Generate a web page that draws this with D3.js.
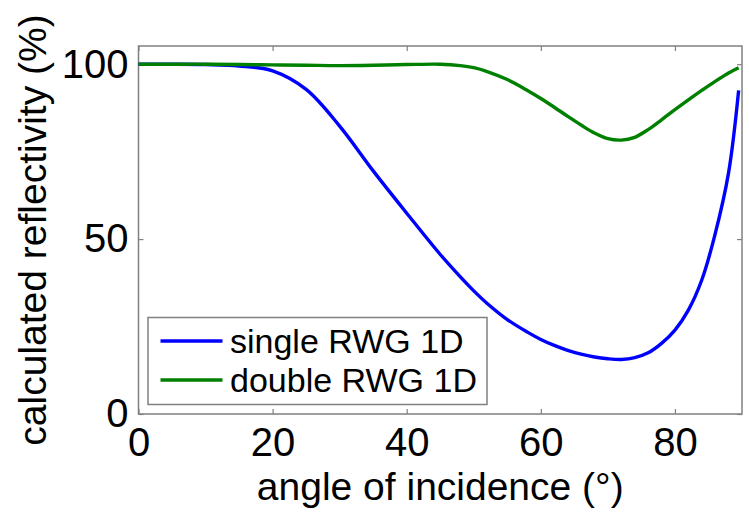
<!DOCTYPE html>
<html>
<head>
<meta charset="utf-8">
<script src="https://cdn.jsdelivr.net/npm/d3@7"></script>
<style>
  html, body { margin: 0; padding: 0; background: #fff; overflow: hidden; }
  svg { display: block; }
</style>
</head>
<body>
<svg id="chart"></svg>
<script>
// set up constants
const width = 749;
const height = 519;
const margin = { top: 46, right: 7, bottom: 105, left: 138.5 };
const innerWidth = width - margin.left - margin.right;
const innerHeight = height - margin.top - margin.bottom;
const font = '"Liberation Sans", Arial, sans-serif';

// data
const angles = [0, 5, 10, 15, 20, 25, 30, 35, 40, 45, 48, 50, 52, 55, 58, 60, 62, 64, 66, 68, 70, 72, 74, 76, 78, 80, 82, 84, 86, 88, 89.5];
const singleRWG = [100, 100, 99.9, 99.5, 98.1, 92.8, 82.3, 69.5, 57.4, 45.6, 39.2, 35.2, 31.6, 27, 23.4, 21.3, 19.6, 18.2, 17.1, 16.3, 15.8, 15.6, 16.1, 17.5, 20.2, 24, 29.7, 38.3, 51.5, 69, 92.5];
const doubleRWG = [100, 100, 100, 99.9, 99.8, 99.7, 99.6, 99.7, 99.9, 100, 99.6, 99, 97.9, 95.6, 92.5, 90.2, 87.7, 85.1, 82.6, 80.3, 78.7, 78.3, 79.1, 81.3, 84.1, 87, 89.8, 92.5, 95.1, 97.5, 99];
const seriesNames = ['single RWG 1D', 'double RWG 1D'];
const seriesColors = ['#0000ff', '#008000'];
const xTicks = [0, 20, 40, 60, 80];
const yTicks = [0, 50, 100];

const svg = d3.select('#chart')
  .attr('width', width)
  .attr('height', height)
  .attr('font-family', font);

const g = svg.append('g')
  .attr('transform', `translate(${margin.left}, ${margin.top})`);

// create scales
const xScale = d3.scaleLinear()
  .domain([0, 90])
  .range([0, innerWidth]);

const yScale = d3.scaleLinear()
  .domain([0, 105.2])
  .range([innerHeight, 0]);

// axes, ticks pointing inward like matlab
const styleAxis = sel => {
  sel.attr('font-size', 40).attr('font-family', font);
  sel.select('.domain').remove();
  sel.selectAll('.tick line').attr('stroke', '#808080').attr('stroke-width', 1.2);
  sel.selectAll('.tick text').attr('fill', '#000');
};
const noLabels = sel => sel.selectAll('.tick text').remove();

g.append('g')
  .attr('transform', `translate(0, ${innerHeight})`)
  .call(d3.axisBottom(xScale).tickValues(xTicks).tickSize(-5).tickPadding(14))
  .call(styleAxis);

g.append('g')
  .call(d3.axisTop(xScale).tickValues(xTicks).tickSize(-5))
  .call(styleAxis)
  .call(noLabels);

g.append('g')
  .call(d3.axisLeft(yScale).tickValues(yTicks).tickSize(-5).tickPadding(10))
  .call(styleAxis);

g.append('g')
  .attr('transform', `translate(${innerWidth}, 0)`)
  .call(d3.axisRight(yScale).tickValues(yTicks).tickSize(-5))
  .call(styleAxis)
  .call(noLabels);

// box
g.append('rect')
  .attr('width', innerWidth)
  .attr('height', innerHeight)
  .attr('fill', 'none')
  .attr('stroke', '#808080')
  .attr('stroke-width', 1.5);

// lines
const line = d3.line()
  .x((d, i) => xScale(angles[i]))
  .y(d => yScale(d))
  .curve(d3.curveCatmullRom.alpha(0.5));

[singleRWG, doubleRWG].forEach((vals, i) => {
  g.append('path')
    .datum(vals)
    .attr('d', line)
    .attr('fill', 'none')
    .attr('stroke', seriesColors[i])
    .attr('stroke-width', 3.4)
    .attr('stroke-linejoin', 'round');
});

// axis labels
svg.append('text')
  .attr('x', margin.left + innerWidth / 2)
  .attr('y', 500)
  .attr('text-anchor', 'middle')
  .attr('font-size', 39)
  .text('angle of incidence (°)');

svg.append('text')
  .attr('transform', `translate(46, ${margin.top + innerHeight / 2}) rotate(-90)`)
  .attr('text-anchor', 'middle')
  .attr('font-size', 39)
  .text('calculated reflectivity (%)');

// legend
const legend = svg.append('g');
legend.append('rect')
  .attr('x', 148)
  .attr('y', 317.5)
  .attr('width', 339)
  .attr('height', 87)
  .attr('fill', '#fff')
  .attr('stroke', '#808080')
  .attr('stroke-width', 1.5);

seriesNames.forEach((name, i) => {
  const cy = 341 + i * 39;
  legend.append('line')
    .attr('x1', 160.5)
    .attr('x2', 222.5)
    .attr('y1', cy)
    .attr('y2', cy)
    .attr('stroke', seriesColors[i])
    .attr('stroke-width', 3.4);
  legend.append('text')
    .attr('x', 230)
    .attr('y', cy + 12)
    .attr('font-size', 34)
    .text(name);
});
</script>
</body>
</html>
